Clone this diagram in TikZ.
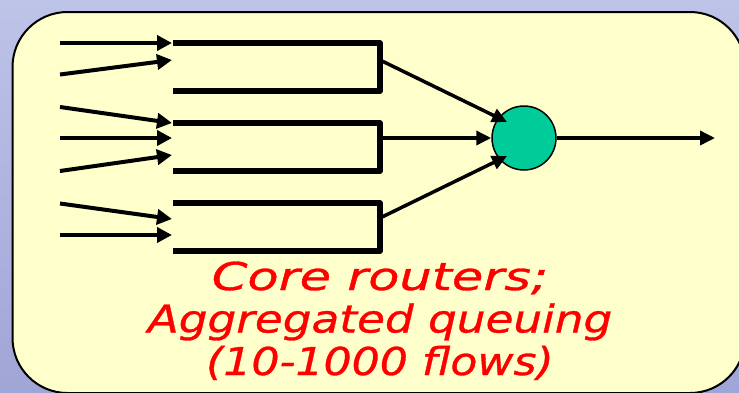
\documentclass[tikz,border=0pt]{standalone}
\usepackage{fontspec}
\usepackage{graphicx}
\newfontfamily\vfont{DejaVu Sans}[ItalicFeatures={FakeBold=0.8}, BoldItalicFont={DejaVu Sans Oblique}, BoldItalicFeatures={FakeBold=0.8}]
\usetikzlibrary{arrows.meta,calc}
\definecolor{bgtop}{RGB}{190,195,232}
\definecolor{bgbot}{RGB}{160,165,215}
\definecolor{boxfill}{RGB}{255,255,204}
\definecolor{routerfill}{RGB}{0,204,153}
\tikzset{
  queuebox/.style={rectangle, minimum width=207pt, minimum height=48pt, inner sep=0pt, outer sep=0pt},
  queueline/.style={line width=5.5pt, line join=round, line cap=butt},
  inarrow/.style={line width=4pt, -{Triangle[length=15pt,width=15pt]}},
  outarrow/.style={line width=3.5pt, -{Triangle[length=15pt,width=14pt]}},
  router/.style={circle, draw=black, line width=1.5pt, fill=routerfill, minimum size=64pt, inner sep=0pt},
  caption/.style={align=center, font=\vfont\bfseries\itshape\fontsize{38.4}{42.5}\selectfont, inner sep=0pt, anchor=base},
}
\begin{document}
\begin{tikzpicture}[x=1pt,y=-1pt]
\useasboundingbox (0,0) rectangle (739,392);
\fill[top color=bgtop, bottom color=bgbot] (0,0) rectangle (739,392);
\draw[line width=2pt, fill=boxfill, rounded corners=55pt] (12.5,12) rectangle (745,393);

% queues
\node[queuebox] (q1) at (276.5,67) {};
\node[queuebox] (q2) at (276.5,147) {};
\node[queuebox] (q3) at (276.5,227) {};
\foreach \q in {q1,q2,q3}
  \draw[queueline] (\q.north west) -- (\q.north east) -- (\q.south east) -- (\q.south west);

% router
\node[router] (c) at (524,138) {};
\coordinate (out) at (715,138);

% input flow coordinates
\coordinate (a1) at (60,43);    \coordinate (t1) at (172,43);
\coordinate (a2) at (60,74.5);  \coordinate (t2) at (172,60);
\coordinate (a3) at (60,107);   \coordinate (t3) at (172,123);
\coordinate (a4) at (60,138);   \coordinate (t4) at (172,138);
\coordinate (a5) at (60,171);   \coordinate (t5) at (172,155);
\coordinate (a6) at (60,203.5); \coordinate (t6) at (172,219);
\coordinate (a7) at (60,235);   \coordinate (t7) at (172,235);
\foreach \i in {1,...,7}
  \draw[inarrow] (a\i) -- (t\i);

% queue outputs
\coordinate (o1) at (380,60);
\coordinate (o2) at (380,138);
\coordinate (o3) at (380,218);
\coordinate (e1) at (507,122);
\coordinate (e3) at (507,156);
\draw[outarrow] (o1) -- (e1);
\draw[outarrow] (o2) -- (c.west);
\draw[outarrow] (o3) -- (e3);
\draw[outarrow] (c.east) -- (out);

% caption
\node[caption, text=red] (cap) at (380,375) {\scalebox{1.33}[1]{Core routers;}\\\scalebox{1.18}[1]{Aggregated queuing}\\\scalebox{1.15}[1]{(10-1000 flows)}};
\end{tikzpicture}
\end{document}
